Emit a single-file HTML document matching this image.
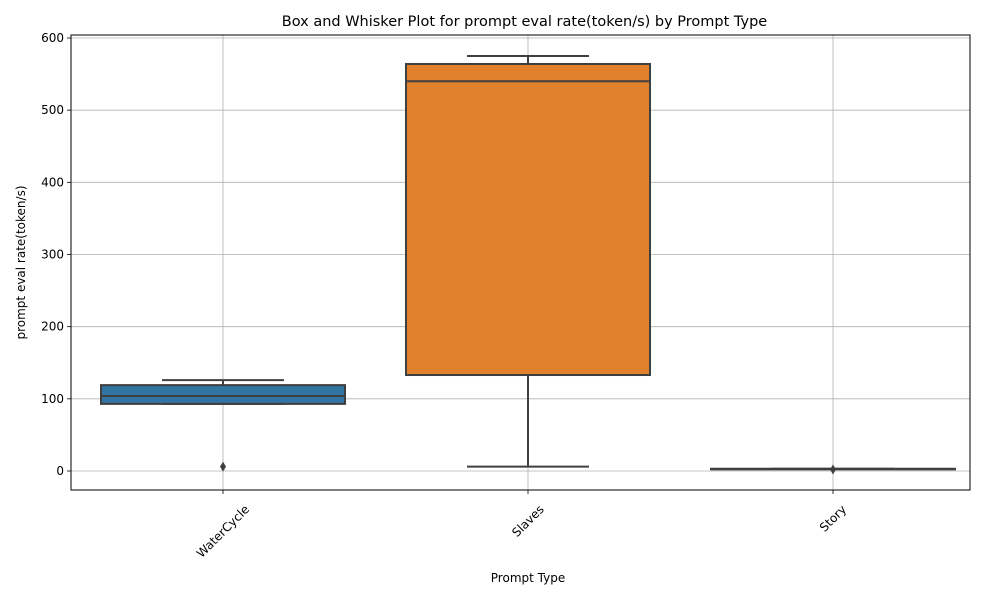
<!DOCTYPE html>
<html><head><meta charset="utf-8"><style>
body{margin:0;background:#fff;font-family:"Liberation Sans","DejaVu Sans",sans-serif;}
svg text{font-family:"DejaVu Sans","Liberation Sans",sans-serif;}
</style></head><body>
<svg id="chart" width="1000" height="600"></svg>
<script>
const categories=["WaterCycle","Slaves","Story"];
const whiskerLow=[93,6,3];
const q1=[93,133,3];
const median=[104,540,3];
const q3=[119,564,3];
const whiskerHigh=[126,575,3];
const outliers=[[6],[],[2]];
const yTicks=[0,100,200,300,400,500,600];
const colors=["#3274a1","#e1812c","#3a923a"];

const svg=document.getElementById('chart');
const NS="http://www.w3.org/2000/svg";
const L=71,R=970,T=35,B=490;
const y=v=>471-v*(433/600);
const band=305;
const xc=i=>223+band*i;
function mk(tag,attrs,parent){const e=document.createElementNS(NS,tag);for(const k in attrs)e.setAttribute(k,attrs[k]);(parent||svg).appendChild(e);return e;}

yTicks.forEach(v=>{
  const g=mk('line',{x1:L,x2:R,y1:y(v),y2:y(v),stroke:'#b0b0b0','stroke-width':0.8});
  
  
  const tk=mk('line',{x1:L-4,x2:L,y1:y(v),y2:y(v),stroke:'#000','stroke-width':0.8});
  
  
  const t=mk('text',{x:L-7,y:y(v)+4,'text-anchor':'end','font-size':12,fill:'#000'});
  t.textContent=v;
  
  
});
categories.forEach((c,i)=>{
  const g=mk('line',{x1:xc(i),x2:xc(i),y1:T,y2:B,stroke:'#b0b0b0','stroke-width':0.8});
  
  
});
categories.forEach((c,i)=>{
  const grp=mk('g',{});
  
  
  const bw=band*0.8, x0=xc(i)-bw/2, cw=bw/2;
  const st={stroke:'#3f3f3f','stroke-width':2};
  mk('line',Object.assign({x1:xc(i),x2:xc(i),y1:y(whiskerHigh[i]),y2:y(q3[i])},st),grp);
  mk('line',Object.assign({x1:xc(i),x2:xc(i),y1:y(q1[i]),y2:y(whiskerLow[i])},st),grp);
  mk('line',Object.assign({x1:xc(i)-cw/2,x2:xc(i)+cw/2,y1:y(whiskerHigh[i]),y2:y(whiskerHigh[i])},st),grp);
  mk('line',Object.assign({x1:xc(i)-cw/2,x2:xc(i)+cw/2,y1:y(whiskerLow[i]),y2:y(whiskerLow[i])},st),grp);
  mk('rect',Object.assign({x:x0,y:y(q3[i]),width:bw,height:Math.max(0.5,y(q1[i])-y(q3[i])),fill:colors[i]},st),grp);
  mk('line',Object.assign({x1:x0,x2:x0+bw,y1:y(median[i]),y2:y(median[i])},st),grp);
  outliers[i].forEach(v=>{
    const d=mk('path',{d:`M${xc(i)},${y(v)-5} L${xc(i)+3},${y(v)} L${xc(i)},${y(v)+5} L${xc(i)-3},${y(v)} Z`,fill:'#3f3f3f'},grp);
    
    
  });
  const tk=mk('line',{x1:xc(i),x2:xc(i),y1:B,y2:B+4,stroke:'#000','stroke-width':0.8});
  
  
  const t=mk('text',{x:xc(i),y:0,'text-anchor':'middle','font-size':12});
  t.textContent=c;
  const w=t.getComputedTextLength();
  const cy=B+13+(w+12)*0.3536;
  t.setAttribute('y',cy+4);
  t.setAttribute('transform',`rotate(-45 ${xc(i)} ${cy})`);
  
  
});
const frame=mk('rect',{x:L,y:T,width:R-L,height:B-T,fill:'none',stroke:'#000','stroke-width':1});


const ti=mk('text',{x:(L+R)/2+4,y:26,'text-anchor':'middle','font-size':14.5});
ti.textContent='Box and Whisker Plot for prompt eval rate(token/s) by Prompt Type';


const xt=mk('text',{x:528,y:582,'text-anchor':'middle','font-size':12});
xt.textContent='Prompt Type';


const yt=mk('text',{x:25,y:(T+B)/2,'text-anchor':'middle','font-size':12,transform:`rotate(-90 25 ${(T+B)/2})`});
yt.textContent='prompt eval rate(token/s)';


</script>
</body></html>
